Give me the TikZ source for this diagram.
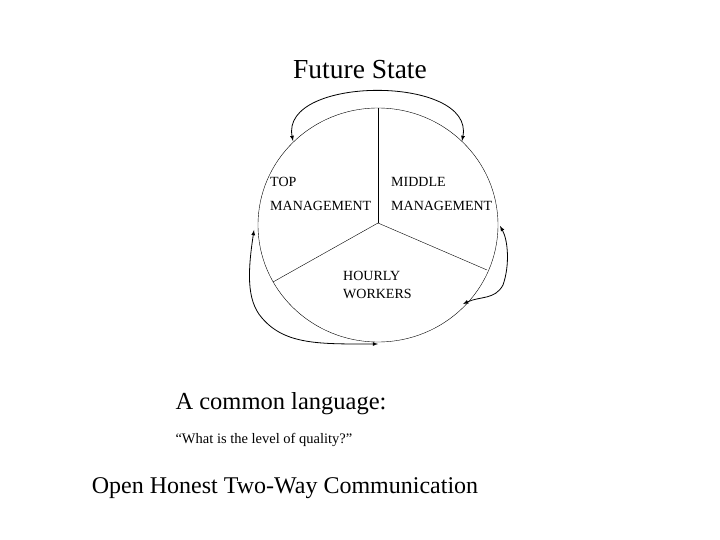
\documentclass[tikz,border=0pt]{standalone}
\usepackage{fontspec}
\setmainfont{Liberation Serif}
\begin{document}
\begin{tikzpicture}[x=1pt,y=-1pt,
  lbl/.style={anchor=west,inner sep=0pt,font=\fontsize{14}{16}\selectfont},
  arr/.style={thick,latex-latex}]
\useasboundingbox (0,0) rectangle (720,540);
\node[font=\fontsize{27.5}{32}\selectfont] (title) at (360,70) {Future State};
\draw (378,225) ellipse [x radius=120, y radius=117];
\coordinate (c) at (378,223);
\coordinate (t) at (378,108);
\coordinate (l) at (273,282);
\coordinate (r) at (487,270);
\draw (c) -- (t); \draw (c) -- (l); \draw (c) -- (r);
\node[lbl] (top1) at (270,182) {TOP};
\node[lbl] (top2) at (270,206) {MANAGEMENT};
\node[lbl] (mid1) at (391,182) {MIDDLE};
\node[lbl] (mid2) at (391,206) {MANAGEMENT};
\node[lbl] (h1) at (343,276) {HOURLY};
\node[lbl] (h2) at (343,294) {WORKERS};
\coordinate (a1) at (293,141);
\coordinate (a2) at (462,141);
\draw[arr] (a1) .. controls (280,75) and (475,75) .. (a2);
\coordinate (b1) at (463,304);
\coordinate (b2) at (500,226);
\draw[arr] (b1) .. controls (480,296) and (495,300) .. (503,285) .. controls (510,265) and (508,240) .. (b2);
\coordinate (d1) at (254,230);
\coordinate (d2) at (378,344);
\draw[arr] (d1) .. controls (248,270) and (246,300) .. (262,318) .. controls (285,345) and (320,344) .. (d2);
\node[anchor=west,font=\fontsize{24.5}{28}\selectfont] (lang) at (172,404) {A common language:};
\node[anchor=west,font=\fontsize{14.5}{17}\selectfont] (q) at (172,440) {``What is the level of quality?''};
\node[font=\fontsize{24}{28}\selectfont] (open) at (285,488) {Open Honest Two-Way Communication};
\end{tikzpicture}
\end{document}
